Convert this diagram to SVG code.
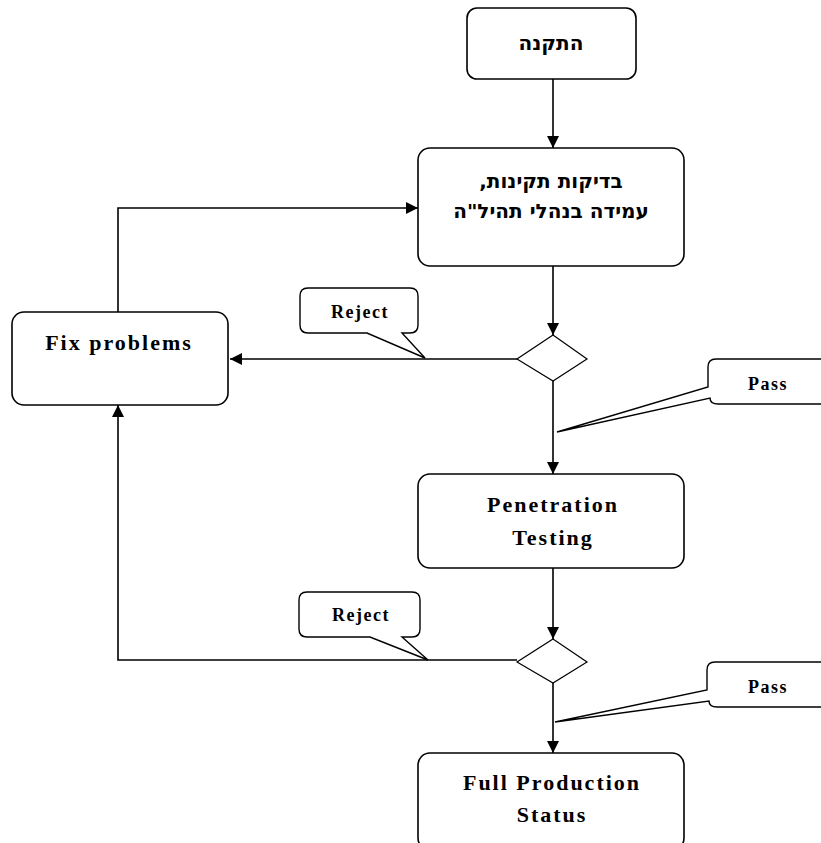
<svg xmlns="http://www.w3.org/2000/svg" width="821" height="843" viewBox="0 0 821 843">
<defs>
<style>
.box{fill:#fff;stroke:#000;stroke-width:1.6}
.call{fill:#fff;stroke:#000;stroke-width:1.4}
.ln{fill:none;stroke:#000;stroke-width:1.6}
.t{font-family:"Liberation Serif","Times New Roman",serif;font-weight:bold;font-size:22px;letter-spacing:2px;text-anchor:middle;fill:#000}
.s{font-family:"Liberation Serif","Times New Roman",serif;font-weight:bold;font-size:18px;letter-spacing:1.5px;text-anchor:middle;fill:#000}
.h{font-family:"DejaVu Sans","Liberation Sans",sans-serif;font-weight:bold;font-size:20px;text-anchor:middle;fill:#000}
</style>
<marker id="ah" viewBox="0 0 12 12" refX="12" refY="6" markerWidth="12" markerHeight="12" markerUnits="userSpaceOnUse" orient="auto">
<path d="M0,0 L12,6 L0,12 Z" fill="#000"/>
</marker>
</defs>
<rect width="821" height="843" fill="#fff"/>
<g id="connectors">
<line class="ln" x1="553" y1="79" x2="553" y2="148" marker-end="url(#ah)"/>
<line class="ln" x1="553" y1="266" x2="553" y2="335" marker-end="url(#ah)"/>
<line class="ln" x1="553" y1="381" x2="553" y2="474" marker-end="url(#ah)"/>
<line class="ln" x1="553" y1="568" x2="553" y2="639" marker-end="url(#ah)"/>
<line class="ln" x1="553" y1="683" x2="553" y2="753" marker-end="url(#ah)"/>
<polyline class="ln" points="517,359 230,359" marker-end="url(#ah)"/>
<polyline class="ln" points="118,312 118,208 418,208" marker-end="url(#ah)"/>
<polyline class="ln" points="517,660 118,660 118,405" marker-end="url(#ah)"/>
</g>
<g id="n1">
<rect class="box" x="467" y="8" width="169" height="71" rx="10"/>
<text class="h" x="551" y="50" direction="rtl">התקנה</text>
</g>
<g id="n2">
<rect class="box" x="418" y="148" width="266" height="118" rx="12"/>
<text class="h" x="551" y="188" direction="rtl">בדיקות תקינות,</text>
<text class="h" x="551" y="218" direction="rtl">עמידה בנהלי תהיל"ה</text>
</g>
<g id="d1">
<polygon class="box" points="553,335 587,359 553,381 517,359" style="stroke-width:1.2"/>
</g>
<g id="fix">
<rect class="box" x="12" y="312" width="216" height="93" rx="12"/>
<text class="t" x="119" y="350">Fix problems</text>
</g>
<g id="n3">
<rect class="box" x="418" y="474" width="266" height="94" rx="12"/>
<text class="t" x="553" y="512">Penetration</text>
<text class="t" x="553" y="545">Testing</text>
</g>
<g id="d2">
<polygon class="box" points="553,639 587,662 553,683 517,662" style="stroke-width:1.2"/>
</g>
<g id="n4">
<rect class="box" x="418" y="753" width="266" height="97" rx="12"/>
<text class="t" x="552" y="790">Full Production</text>
<text class="t" x="552" y="822">Status</text>
</g>
<g id="reject1">
<path class="call" d="M308,288 L410,288 Q418,288 418,296 L418,325 Q418,333 410,333 L402,333 L425,358 L367,333 L308,333 Q300,333 300,325 L300,296 Q300,288 308,288 Z"/>
<text class="s" x="360" y="318">Reject</text>
</g>
<g id="reject2">
<path class="call" d="M307,592 L412,592 Q420,592 420,600 L420,629 Q420,637 412,637 L402,637 L428,660 L370,637 L307,637 Q299,637 299,629 L299,600 Q299,592 307,592 Z"/>
<text class="s" x="361" y="621">Reject</text>
</g>
<g id="pass1">
<path class="call" d="M716,359 L840,359 L840,404 L718,404 Q710,404 710,398 L557,432 L708,387 L708,367 Q708,359 716,359 Z"/>
<text class="s" x="768" y="390">Pass</text>
</g>
<g id="pass2">
<path class="call" d="M715,662 L840,662 L840,707 L717,707 Q709,707 709,701 L555,722 L707,690 L707,670 Q707,662 715,662 Z"/>
<text class="s" x="768" y="693">Pass</text>
</g>
</svg>
